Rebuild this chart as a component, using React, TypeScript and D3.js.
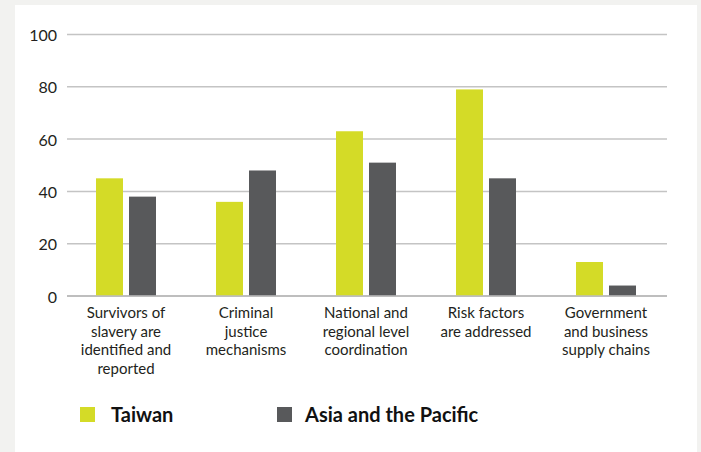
import { useEffect, useRef } from 'react';
import * as d3 from 'd3';

const categories = [
  ['Survivors of', 'slavery are', 'identified and', 'reported'],
  ['Criminal', 'justice', 'mechanisms'],
  ['National and', 'regional level', 'coordination'],
  ['Risk factors', 'are addressed'],
  ['Government', 'and business', 'supply chains'],
];
const seriesNames = ['Taiwan', 'Asia and the Pacific'];
const taiwan = [45, 36, 63, 79, 13];
const asiaPacific = [38, 48, 51, 45, 4];
const yTicks = [0, 20, 40, 60, 80, 100];

const colors = ['#d4db27', '#58595b'];
const font = 'Lato, "Noto Sans", sans-serif';

export default function App() {
  const svgRef = useRef<SVGSVGElement>(null);

  useEffect(() => {
    if (!svgRef.current) return;
    const width = 701;
    const height = 452;
    const margin = { top: 34.5, right: 34, bottom: 156, left: 67 };

    const svg = d3.select(svgRef.current);
    svg.selectAll('*').remove();

    // background + white panel
    svg.append('rect').attr('width', width).attr('height', height).attr('fill', '#f2f2f0');
    svg.append('rect').attr('x', 15).attr('y', 5).attr('width', 682).attr('height', height - 5).attr('fill', '#ffffff');

    const idx = d3.range(categories.length).map(String);
    const x = d3.scaleBand().domain(idx).range([margin.left, width - margin.right]);
    const y = d3.scaleLinear().domain([0, 100]).range([height - margin.bottom, margin.top]);

    // gridlines
    svg.append('g')
      .selectAll('line')
      .data(yTicks)
      .enter()
      .append('line')
      .attr('x1', margin.left)
      .attr('x2', width - margin.right)
      .attr('y1', d => y(d))
      .attr('y2', d => y(d))
      .attr('stroke', d => (d === 0 ? '#a8a8a8' : '#c4c4c4'))
      .attr('stroke-width', 1.5);

    // y labels
    svg.append('g')
      .selectAll('text')
      .data(yTicks)
      .enter()
      .append('text')
      .attr('x', 57)
      .attr('y', d => y(d) + 1)
      .attr('dy', '0.35em')
      .attr('text-anchor', 'end')
      .attr('font-family', font)
      .attr('font-size', 16)
      .attr('fill', '#231f20')
      .text(d => d);

    const barW = 27;
    const gap = 6;
    const series = [taiwan, asiaPacific];

    series.forEach((vals, s) => {
      svg.append('g')
        .selectAll('rect')
        .data(vals)
        .enter()
        .append('rect')
        .attr('x', (d, i) => {
          const c = x(String(i))! + x.bandwidth() / 2 - 1;
          return s === 0 ? c - gap / 2 - barW : c + gap / 2;
        })
        .attr('y', d => y(d))
        .attr('width', barW)
        .attr('height', d => y(0) - y(d) - 0.75)
        .attr('fill', colors[s]);
    });

    // category labels
    const labels = svg.append('g')
      .selectAll('text')
      .data(categories)
      .enter()
      .append('text')
      .attr('text-anchor', 'middle')
      .attr('font-family', font)
      .attr('font-size', 15)
      .attr('fill', '#231f20');
    labels.each(function (lines, i) {
      const t = d3.select(this);
      lines.forEach((ln, j) => {
        t.append('tspan')
          .attr('x', x(String(i))! + x.bandwidth() / 2 - 1)
          .attr('y', 318 + j * 18.6)
          .text(ln);
      });
    });

    // legend
    const legendX = [80, 277];
    const legend = svg.append('g')
      .selectAll('g')
      .data(seriesNames)
      .enter()
      .append('g')
      .attr('transform', (d, i) => `translate(${legendX[i]},407)`);
    legend.append('rect')
      .attr('width', 15)
      .attr('height', 15)
      .attr('fill', (d, i) => colors[i]);
    legend.append('text')
      .attr('x', (d, i) => (i === 0 ? 31 : 28))
      .attr('y', 15)
      .attr('font-family', font)
      .attr('font-weight', 'bold')
      .attr('font-size', 20)
      .attr('fill', '#111')
      .text(d => d);
  }, []);

  return (
    <div style={{ position: 'fixed', left: 0, top: 0 }}>
      <svg ref={svgRef} width={701} height={452} style={{ display: 'block' }} />
    </div>
  );
}
